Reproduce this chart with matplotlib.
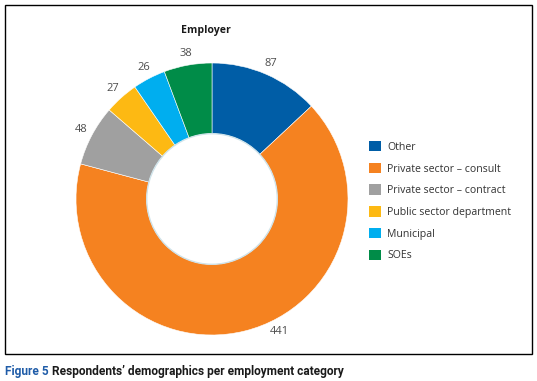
import numpy as np
import matplotlib
matplotlib.use("Agg")
import matplotlib.pyplot as plt
from matplotlib.patches import Patch, Rectangle, Circle

categories = ["Other", "Private sector \u2013 consult", "Private sector \u2013 contract",
              "Public sector department", "Municipal", "SOEs"]
counts = [87, 441, 48, 27, 26, 38]
colors = ["#005DA6", "#F58220", "#A0A0A0", "#FDB913", "#00AEEF", "#008C48"]
# Excel nudges the big slice's label off its midpoint
label_shift = [0, 13, 0, 0, 0, 0]

plt.rcParams["font.family"] = ["Open Sans", "DejaVu Sans"]

W, H = 537, 381
fig = plt.figure(figsize=(W / 100, H / 100), dpi=100)

# outer frame
fig.patches.append(Rectangle((5 / W, 1 - 354 / H), 527 / W, 349 / H,
                             transform=fig.transFigure, fill=False,
                             edgecolor="black", linewidth=1.0))

cx, cy, r = 212, 199, 136
ax = fig.add_axes([(cx - r) / W, (H - cy - r) / H, 2 * r / W, 2 * r / H])
wedges, _ = ax.pie(counts, colors=colors, startangle=90, counterclock=False,
                   radius=1.0, wedgeprops=dict(width=0.52, edgecolor="white", linewidth=0.4))
ax.add_patch(Circle((0, 0), 0.48, facecolor="none", edgecolor="#cfe3ea", linewidth=1.0))

for w, v, s in zip(wedges, counts, label_shift):
    ang = np.deg2rad((w.theta1 + w.theta2) / 2 + s)
    ax.text(1.09 * np.cos(ang), 1.09 * np.sin(ang), str(v), ha="center", va="center",
            fontsize=8, color="#4d4d4d")
ax.set_xlim(-1, 1)
ax.set_ylim(-1, 1)
ax.set_aspect("equal")
ax.axis("off")

fig.text(206 / W, 1 - 30 / H, "Employer", ha="center", va="center",
         fontsize=7.6, fontweight="bold", color="#1a1a1a")

handles = [Patch(facecolor=c, edgecolor="none") for c in colors]
fig.legend(handles, categories, loc="upper left", bbox_to_anchor=(369 / W, 1 - 141 / H),
           frameon=False, fontsize=7.6, borderpad=0, borderaxespad=0,
           handlelength=1.15, handleheight=1.15, handletextpad=0.6, labelspacing=0.94,
           labelcolor="#333333")

cap_font = dict(fontsize=8.6, fontweight="bold", family=["Roboto", "DejaVu Sans"])
t1 = fig.text(5 / W, 1 - 372 / H, "Figure 5", ha="left", va="center",
              color="#1f5ca8", **cap_font)
fig.canvas.draw()
bb = t1.get_window_extent()
fig.text(bb.x1 / W + 3 / W, 1 - 372 / H,
         "Respondents\u2019 demographics per employment category",
         ha="left", va="center", color="#1a1a1a", **cap_font)

fig.savefig("out.png", dpi=100)
